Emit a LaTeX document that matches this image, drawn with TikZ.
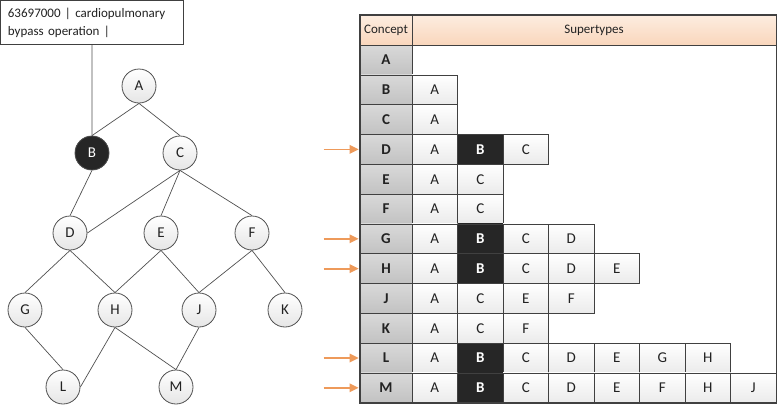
\documentclass[tikz,border=0pt]{standalone}
\usepackage{fontspec}
\setmainfont{Carlito}
\usetikzlibrary{arrows.meta}
\definecolor{lineclr}{HTML}{505050}
\definecolor{frameclr}{HTML}{404040}
\definecolor{darkfill}{HTML}{262626}
\definecolor{peachA}{HTML}{FDEDE0}
\definecolor{peachB}{HTML}{F9D6BC}
\definecolor{arrowclr}{HTML}{EE9A5A}
\definecolor{txt}{HTML}{222222}
\begin{document}
\begin{tikzpicture}[x=1pt,y=-1pt,
  font=\fontsize{13}{18}\selectfont,
  vertex/.style={circle, draw=lineclr, line width=0.8pt, minimum size=34pt, inner sep=0pt,
                 top color=white, bottom color=black!10, text=txt, font=\fontsize{15}{18}\selectfont},
  picked/.style={vertex, top color=darkfill, bottom color=darkfill, fill=darkfill, text=white},
  link/.style={draw=lineclr, line width=0.7pt},
  cellbox/.style={draw=frameclr, line width=0.8pt, minimum width=45.5pt, minimum height=29.8pt,
                  inner sep=0pt, top color=white, bottom color=black!8, text=txt,
                  font=\fontsize{15}{18}\selectfont},
  darkcell/.style={cellbox, top color=darkfill, bottom color=darkfill, text=white,
                   font=\fontsize{15}{18}\selectfont\bfseries},
  concept/.style={draw=frameclr, line width=0.8pt, minimum width=52pt, minimum height=29.8pt,
                  inner sep=0pt, top color=black!15, bottom color=black!24, text=txt,
                  font=\fontsize{15}{18}\selectfont\bfseries},
  headcell/.style={draw=frameclr, line width=0.8pt, minimum height=30pt, inner sep=0pt,
                   top color=peachA, bottom color=peachB, text=txt, font=\fontsize{13}{15}\selectfont},
  shaft/.style={draw=arrowclr, line width=1.8pt},
  tip/.style={fill=arrowclr}
]
\useasboundingbox (0,0) rectangle (779,408);

% ---------- description box ----------
\node[draw=frameclr, line width=0.8pt, fill=white, anchor=north west, minimum width=183pt,
      minimum height=44pt, text width=168pt, align=left, inner xsep=7.5pt, inner ysep=3pt,
      text=txt] (box) at (0,0) {63697000 | cardiopulmonary\\bypass operation |};

% ---------- concept graph ----------
\node[vertex] (A) at (139,86) {A};
\node[picked] (B) at (92,153) {B};
\node[vertex] (C) at (180,153) {C};
\node[vertex] (D) at (70,233) {D};
\node[vertex] (E) at (161,233) {E};
\node[vertex] (F) at (252,233) {F};
\node[vertex] (G) at (25,310) {G};
\node[vertex] (H) at (115,310) {H};
\node[vertex] (J) at (199,310) {J};
\node[vertex] (K) at (285,310) {K};
\node[vertex] (L) at (63,387) {L};
\node[vertex] (M) at (176,387) {M};

\draw[link] (box.south) -- (B.north);
\draw[link] (A.south) -- (B.north);
\draw[link] (A.south) -- (C.north);
\draw[link] (B.south) -- (D.north);
\draw[link] (C.south) -- (D.east);
\draw[link] (C.south) -- (E.north);
\draw[link] (C.south) -- (F.north);
\draw[link] (D.south) -- (G.north);
\draw[link] (D.south) -- (H.north);
\draw[link] (E.south) -- (H.north);
\draw[link] (E.south) -- (J.north);
\draw[link] (F.south) -- (J.north);
\draw[link] (F.south) -- (K.north);
\draw[link] (G.south) -- (L.north);
\draw[link] (H.south) -- (L.east);
\draw[link] (H.south) -- (M.north);
\draw[link] (J.south) -- (M.north);

% ---------- supertype table ----------
\node[headcell, minimum width=52pt] (hc) at (386,30) {Concept};
\node[headcell, minimum width=364pt] (hs) at (594,30) {Supertypes};

\node[concept] (cA) at (386,60) {A};
\foreach \r/\lst [count=\i from 1] in
  {B/{A}, C/{A}, D/{A,B,C}, E/{A,C}, F/{A,C}, G/{A,B,C,D}, H/{A,B,C,D,E},
   J/{A,C,E,F}, K/{A,C,F}, L/{A,B,C,D,E,G,H}, M/{A,B,C,D,E,F,H,J}} {
  \pgfmathsetmacro\yc{60+\i*29.8}
  \node[concept] (c\r) at (386,\yc) {\r};
  \foreach \s [count=\j from 0] in \lst {
    \pgfmathsetmacro\xc{434.75+\j*45.5}
    \if\s B
      \node[darkcell] (s\r\j) at (\xc,\yc) {\s};
    \else
      \node[cellbox] (s\r\j) at (\xc,\yc) {\s};
    \fi
  }
}

% outer frame of the table
\draw[frameclr, line width=1.8pt] (hc.north west) rectangle (sM7.south east);

% pointers to the rows whose supertypes include B: a shaft and a filled head
\foreach \r in {D,G,H,L,M} {
  \coordinate (p\r) at ([xshift=-36pt]c\r.west);
  \draw[shaft] (p\r) -- ([xshift=-7pt]c\r.west);
  \fill[tip] ([xshift=-1pt]c\r.west) -- ++(-9,-4.5) -- ++(0,9) -- cycle;
}
\end{tikzpicture}
\end{document}
